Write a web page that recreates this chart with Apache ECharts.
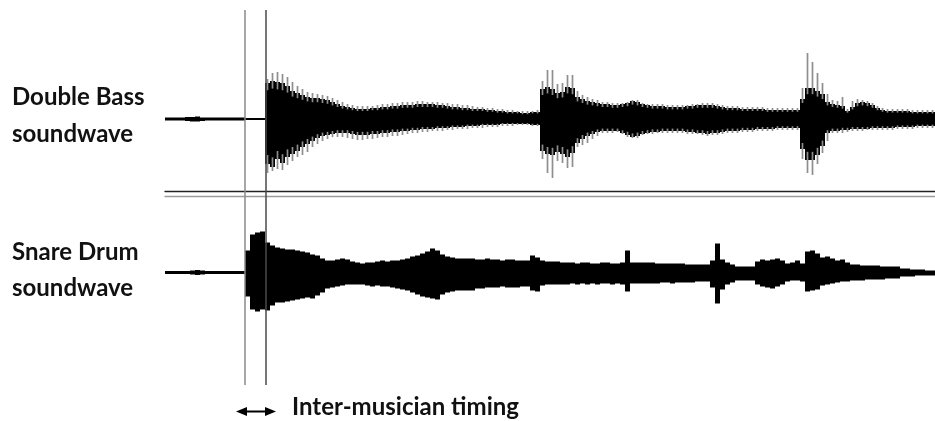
<!DOCTYPE html>
<html>
<head>
<meta charset="utf-8">
<script src="https://cdn.jsdelivr.net/npm/echarts@6/dist/echarts.min.js"></script>
<style>
  html, body { margin: 0; padding: 0; background: #fff; }
  #chart { width: 935px; height: 421px; }
</style>
</head>
<body>
<div id="chart"></div>
<script>
// Each waveform column spans STEP time units; envelope values are amplitudes (up = positive).
const STEP = 5;

// Onsets of the two instruments (time units), marked by the vertical guides.
const onsets = [80, 100.5];

// Double bass: solid body envelope
const bassTop = [
  1.5,1.5,1.5,1.5,2,2,2.5,1.5,1.5,1.5,1.5,1.5,1.5,1.5,1.5,1.5,
  1,1,1,1,
  36,38,37,36,33,28,26,24,22,21,21,20,19,17,15,13,12,11,10,10,
  10,11,11,12,12,13,13,14,14,14,15,15,15,15,14,14,13,12,12,11,
  11,10,10,10,9,9,8,8,7,7,7,6,6,7,7,30,32,30,26,27,
  32,31,22,20,18,17,16,15,15,14,14,15,16,18,17,15,14,13,13,13,
  12,12,12,12,13,13,14,14,14,14,13,12,11,11,11,10,10,10,10,10,
  9,9,9,9,9,9,9,20,31,31,28,25,17,15,14,13,8,12,16,17,
  16,14,11,9,8,8,8,8,8,7,7,7,7,7
];
const bassBot = [
  -1.5,-1.5,-1.5,-1.5,-2,-2.5,-2.5,-2,-1.5,-1.5,-1.5,-1.5,-1.5,-1.5,-1.5,-1.5,
  -1,-1,-1,-1,
  -45,-48,-40,-44,-38,-35,-32,-28,-25,-22,-19,-17,-16,-15,-14,-14,-14,-15,-16,-16,
  -16,-15,-15,-14,-14,-13,-13,-12,-12,-11,-11,-10,-10,-10,-9,-9,-9,-8,-8,-8,
  -7,-7,-7,-6,-6,-6,-6,-5,-5,-5,-5,-5,-5,-6,-6,-32,-35,-36,-33,-35,
  -38,-34,-24,-20,-17,-15,-13,-12,-12,-12,-12,-14,-16,-18,-17,-15,-14,-13,-13,-12,
  -12,-12,-12,-12,-13,-13,-14,-14,-15,-14,-14,-13,-12,-12,-12,-11,-11,-11,-10,-10,
  -10,-10,-9,-9,-9,-9,-9,-30,-41,-41,-36,-27,-14,-12,-12,-11,-11,-10,-10,-10,
  -10,-9,-9,-9,-9,-9,-8,-8,-8,-8,-7,-7,-7,-7
];
// Double bass: individual peaks reaching past the body (0 = none)
const bassPeakTop = [
  0,0,0,0,0,0,0,0,0,0,0,0,0,0,0,0,0,0,0,0,
  40,46,47,45,42,37,33,30,27,26,25,24,23,21,19,17,15,14,13,13,
  13,13,14,15,15,16,16,17,17,17,18,18,17,17,17,16,16,15,15,14,
  14,13,12,12,11,11,10,10,9,9,8,8,8,8,9,38,49,49,35,36,
  44,44,28,24,22,20,19,17,17,16,16,16,17,19,19,16,15,15,15,15,
  14,14,14,14,14,15,15,16,16,16,15,14,13,13,13,12,12,12,12,12,
  11,11,11,11,11,11,11,31,66,57,46,36,25,19,18,22,10,18,20,19,
  18,16,13,11,10,10,10,10,10,9,9,9,9,9
];
const bassPeakBot = [
  0,0,0,0,0,0,0,0,0,0,0,0,0,0,0,0,0,0,0,0,
  -54,-52,-50,-51,-46,-42,-38,-36,-33,-28,-25,-22,-20,-18,-18,-18,-19,-20,-21,-21,
  -20,-20,-19,-18,-18,-17,-17,-16,-15,-14,-14,-13,-13,-12,-12,-12,-11,-11,-10,-10,
  -10,-9,-9,-9,-8,-8,-8,-7,-7,-7,-6,-6,-6,-7,-7,-40,-54,-59,-42,-44,
  -49,-48,-28,-26,-24,-20,-17,-14,-14,-14,-13,-15,-18,-19,-19,-16,-15,-15,-14,-14,
  -14,-14,-14,-14,-15,-15,-15,-16,-17,-16,-16,-15,-14,-14,-14,-13,-13,-13,-12,-12,
  -12,-12,-11,-11,-11,-11,-11,-40,-54,-56,-45,-34,-22,-14,-14,-14,-13,-12,-12,-12,
  -11,-11,-11,-11,-11,-11,-10,-10,-10,-10,-9,-9,-9,-9
];

// Snare drum envelope
const snareTop = [
  1.5,1.5,1.5,1.5,1.5,2,2.5,2,1.5,1.5,1.5,1.5,1.5,1.5,1.5,1.5,
  22,38,40,41,30,27,25,24,23,23,22,21,20,18,17,14,12,12,13,14,
  13,11,10,9,10,10,11,12,11,12,12,13,14,16,17,19,21,24,22,18,
  16,15,14,14,14,14,13,13,14,13,13,12,13,13,12,12,12,17,15,12,
  11,11,11,10,10,10,9,10,10,9,9,10,10,9,9,10,22,10,10,10,
  10,10,9,9,9,9,9,9,8,8,8,8,8,12,29,13,10,8,6,6,
  6,6,11,13,12,13,14,12,9,10,12,9,21,22,19,15,16,14,12,13,
  10,8,8,7,7,7,7,6,6,6,6,4,4,3,3,3,2,2
];
const snareBot = [
  -1.5,-1.5,-1.5,-1.5,-1.5,-2,-2.5,-2,-1.5,-1.5,-1.5,-1.5,-1.5,-1.5,-1.5,-1.5,
  -24,-37,-39,-37,-38,-33,-30,-30,-29,-28,-27,-26,-25,-26,-23,-20,-16,-15,-14,-13,
  -12,-12,-12,-12,-13,-14,-13,-14,-14,-15,-16,-17,-18,-20,-22,-24,-25,-26,-27,-22,
  -20,-19,-18,-18,-18,-18,-16,-16,-15,-15,-15,-14,-15,-15,-15,-14,-14,-18,-19,-13,
  -12,-12,-12,-12,-12,-11,-12,-11,-12,-11,-12,-11,-11,-12,-11,-12,-19,-11,-11,-11,
  -11,-11,-11,-10,-10,-11,-10,-10,-10,-10,-9,-9,-9,-15,-31,-17,-12,-10,-8,-8,
  -8,-8,-12,-14,-15,-16,-14,-12,-9,-8,-8,-9,-19,-18,-17,-13,-12,-11,-10,-9,
  -9,-8,-8,-8,-7,-7,-7,-7,-6,-6,-6,-4,-4,-4,-3,-3,-3,-3
];

const rowLabels = [
  { text: 'Double Bass', x: 12, baseline: 105 },
  { text: 'soundwave', x: 12, baseline: 142 },
  { text: 'Snare Drum', x: 12, baseline: 260 },
  { text: 'soundwave', x: 12, baseline: 296 }
];
const timingLabel = 'Inter-musician timing';

const TOTAL = bassTop.length * STEP;
const FONT = 'bold 24px Lato';
const STRIPE_DEPTH = 0.8; // how far a peak stripe reaches back into the body

function columns(top, bot) {
  return top.map((v, i) => [i * STEP, v, bot[i]]);
}
function spikes(peakTop, peakBot, top, bot) {
  return peakTop
    .map((v, i) => [i * STEP + STEP / 2, v, peakBot[i], top[i], bot[i]])
    .filter(d => d[1] !== 0 || d[2] !== 0);
}

function renderColumn(params, api) {
  const t = api.value(0);
  const a = api.coord([t, api.value(1)]);
  const b = api.coord([t + STEP, api.value(2)]);
  return {
    type: 'rect',
    shape: { x: a[0], y: a[1], width: b[0] - a[0], height: b[1] - a[1] },
    style: api.style()
  };
}
// A peak stripe: a thin lighter line running from the peak back into the body.
function renderSpike(params, api) {
  const t = api.value(0);
  const w = 1.7;
  const up0 = api.coord([t, api.value(1)]);
  const up1 = api.coord([t, api.value(3) * STRIPE_DEPTH]);
  const dn0 = api.coord([t, api.value(4) * STRIPE_DEPTH]);
  const dn1 = api.coord([t, api.value(2)]);
  const style = api.style();
  return {
    type: 'group',
    children: [
      { type: 'rect', shape: { x: up0[0] - w / 2, y: up0[1], width: w, height: up1[1] - up0[1] }, style },
      { type: 'rect', shape: { x: dn0[0] - w / 2, y: dn0[1], width: w, height: dn1[1] - dn0[1] }, style }
    ]
  };
}

const hiddenTime = (gridIndex) => ({
  type: 'value', gridIndex, min: 0, max: TOTAL, show: false
});
const hiddenAmp = (gridIndex, lim) => ({
  type: 'value', gridIndex, min: -lim, max: lim, show: false
});
const ruleAxis = (position, color) => ({
  type: 'value', gridIndex: 3, min: 0, max: TOTAL, position,
  axisLine: { show: true, onZero: false, lineStyle: { color, width: 1.4 } },
  axisTick: { show: false }, axisLabel: { show: false }, splitLine: { show: false }
});

const chart = echarts.init(document.getElementById('chart'), null, { renderer: 'canvas' });

chart.setOption({
  animation: false,
  backgroundColor: '#fff',
  grid: [
    { left: 165, width: 770, top: 49, height: 140 },      // double bass
    { left: 165, width: 770, top: 202.5, height: 140 },   // snare drum
    { left: 165, width: 770, top: 10, height: 375 },      // onset guides
    { left: 165, width: 770, top: 191.5, height: 5 }      // separator rule
  ],
  xAxis: [
    hiddenTime(0),
    hiddenTime(1),
    hiddenTime(2),
    ruleAxis('top', '#222'),
    ruleAxis('bottom', '#9a9a9a')
  ],
  yAxis: [
    hiddenAmp(0, 70),
    hiddenAmp(1, 70),
    { type: 'value', gridIndex: 2, min: 0, max: 1, show: false },
    { type: 'value', gridIndex: 3, min: 0, max: 1, show: false }
  ],
  series: [
    {
      name: 'Double Bass', type: 'custom', xAxisIndex: 0, yAxisIndex: 0,
      renderItem: renderColumn, itemStyle: { color: '#000' },
      encode: { x: 0, y: [1, 2] }, data: columns(bassTop, bassBot), z: 2, silent: true
    },
    {
      name: 'Double Bass peaks', type: 'custom', xAxisIndex: 0, yAxisIndex: 0,
      renderItem: renderSpike, itemStyle: { color: '#8e8e8e' },
      encode: { x: 0, y: [1, 2] }, data: spikes(bassPeakTop, bassPeakBot, bassTop, bassBot), z: 3, silent: true
    },
    {
      name: 'Snare Drum', type: 'custom', xAxisIndex: 1, yAxisIndex: 1,
      renderItem: renderColumn, itemStyle: { color: '#000' },
      encode: { x: 0, y: [1, 2] }, data: columns(snareTop, snareBot), z: 2, silent: true
    },
    {
      name: 'Onsets', type: 'line', xAxisIndex: 2, yAxisIndex: 2,
      data: [[0, 0]], symbol: 'none', lineStyle: { opacity: 0 }, z: 5,
      markLine: {
        silent: true, symbol: ['none', 'none'], label: { show: false },
        data: [
          { xAxis: onsets[0], lineStyle: { color: '#8a8a8a', width: 1.5, type: 'solid' } },
          { xAxis: onsets[1], lineStyle: { color: '#4a4a4a', width: 1.5, type: 'solid' } }
        ]
      }
    },
    {
      name: 'Rule', type: 'line', xAxisIndex: 3, yAxisIndex: 3,
      data: [], symbol: 'none', silent: true
    }
  ],
  graphic: [
    ...rowLabels.map(l => ({
      type: 'text', silent: true,
      style: { text: l.text, x: l.x, y: l.baseline - 7.3, font: FONT, fill: '#111', verticalAlign: 'middle' }
    })),
    {
      type: 'group', silent: true,
      children: [
        { type: 'line', shape: { x1: 244, y1: 411.5, x2: 268, y2: 411.5 }, style: { stroke: '#000', lineWidth: 2 } },
        { type: 'polygon', shape: { points: [[236, 411.5], [247, 407], [247, 416]] }, style: { fill: '#000' } },
        { type: 'polygon', shape: { points: [[276, 411.5], [265, 407], [265, 416]] }, style: { fill: '#000' } }
      ]
    },
    {
      type: 'text', silent: true,
      style: { text: timingLabel, x: 292, y: 415 - 7.3, font: FONT, fill: '#111', verticalAlign: 'middle' }
    }
  ]
});
</script>
</body>
</html>
